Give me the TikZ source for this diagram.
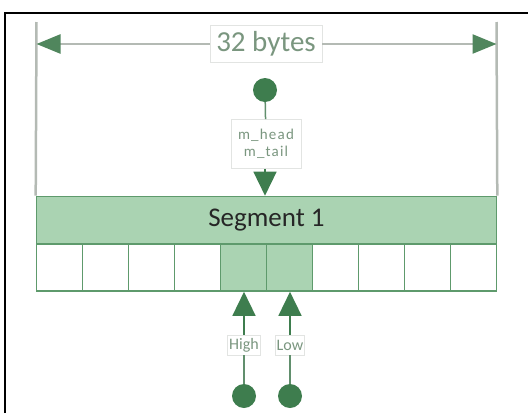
\documentclass[tikz,border=0pt]{standalone}
\usepackage{fontspec}
\setmainfont{Carlito}
\usetikzlibrary{arrows.meta}
\definecolor{dgreen}{HTML}{3E7D4E}
\definecolor{lgreen}{HTML}{AAD3B2}
\definecolor{bgreen}{HTML}{5E9A6C}
\definecolor{lgray}{HTML}{B4BAB4}
\definecolor{tgreen}{HTML}{7A967F}
\definecolor{boxgray}{HTML}{E2E4E2}
\begin{document}
\begin{tikzpicture}[x=1pt,y=-1pt,
  dot/.style={circle,fill=dgreen,minimum size=24pt,inner sep=0pt},
  cell/.style={draw=bgreen,line width=1.6pt,minimum width=46pt,minimum height=47pt,inner sep=0pt},
  lab/.style={draw=boxgray,fill=white,text=tgreen,inner sep=2pt,line width=0.6pt},
  conn/.style={draw=dgreen!70!lgray,line width=1.5pt},
  tip/.style={-{Triangle[length=24pt,width=23pt]},dgreen},
  dim/.style={draw=lgray,line width=2.5pt},
  dimtip/.style={-{Triangle[length=24pt,width=19pt,color=dgreen!85!lgray]}}
]
\useasboundingbox (0,0) rectangle (528,413);
\draw[line width=2pt] (5,413) -- (5,13) -- (528,13);

% segment and cells
\node[draw=bgreen,line width=1.6pt,fill=lgreen,minimum width=460pt,minimum height=47pt,inner sep=0pt,
      font=\fontsize{27}{30}\selectfont,text=black!85] (seg) at (266.5,220) {Segment 1};
\foreach \i in {1,...,10}{
  \pgfmathsetmacro{\cx}{36.5+46*(\i-1)+23}
  \node[cell] (c\i) at (\cx,267.5) {};
}
\node[cell,fill=lgreen] at (c5) {};
\node[cell,fill=lgreen] at (c6) {};

% dimension
\coordinate (tl) at (36.5,22);
\coordinate (tr) at (496.5,22);
\draw[dim] (tl) -- (seg.north west);
\draw[dim] (tr) -- (seg.north east);
\coordinate (dl) at (36.5,44);
\coordinate (dr) at (496.5,44);
\node[lab,font=\fontsize{29}{31}\selectfont,minimum width=112pt,minimum height=37pt] (bytes) at (266,44) {32 bytes};
\draw[dim,dimtip] (bytes) -- (dl);
\draw[dim,dimtip] (bytes) -- (dr);

% top pointer
\node[dot] (top) at (265,90) {};
\node[lab,align=center,font=\fontsize{15}{17}\selectfont\addfontfeature{LetterSpace=8},minimum width=70pt,minimum height=49pt] (ht) at (266,144) {m\_head\\m\_tail};
\draw[conn] (top) -- (ht);
\draw[conn,tip] (ht.south -| top) -- (seg.north -| top);

% bottom pointers
\node[dot] (dh) at (244,396) {};
\node[dot] (dlw) at (290,396) {};
\node[lab,font=\fontsize{16}{18}\selectfont,minimum height=20pt,inner sep=1.5pt] (lh) at (244,345) {High};
\node[lab,font=\fontsize{16}{18}\selectfont,minimum height=20pt,inner sep=1.5pt] (ll) at (290,345) {Low};
\draw[conn] (dh) -- (lh);
\draw[conn] (dlw) -- (ll);
\draw[conn,tip] (lh) -- (lh |- c5.south);
\draw[conn,tip] (ll) -- (ll |- c6.south);
\end{tikzpicture}
\end{document}
